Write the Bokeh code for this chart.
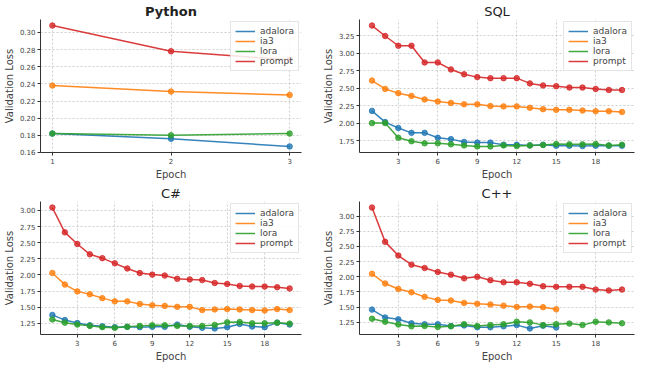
from bokeh.plotting import figure
from bokeh.layouts import gridplot
from bokeh.models import FixedTicker, Legend, LegendItem, NumeralTickFormatter
from bokeh.embed import file_html
from bokeh.resources import INLINE

methods = ["adalora", "ia3", "lora", "prompt"]
colors = ["#1f77b4", "#ff7f0e", "#2ca02c", "#d62728"]

py_adalora = [0.182, 0.176, 0.167]
py_ia3 = [0.238, 0.231, 0.227]
py_lora = [0.182, 0.180, 0.182]
py_prompt = [0.308, 0.278, 0.268]

sql_adalora = [2.175, 2.015, 1.93, 1.86, 1.86, 1.79, 1.77, 1.73, 1.72, 1.72, 1.69, 1.69, 1.68, 1.69, 1.675, 1.675, 1.67, 1.675, 1.675, 1.675]
sql_ia3 = [2.61, 2.49, 2.43, 2.39, 2.34, 2.31, 2.29, 2.27, 2.27, 2.245, 2.24, 2.24, 2.22, 2.20, 2.19, 2.19, 2.18, 2.17, 2.17, 2.16]
sql_lora = [2.00, 2.00, 1.79, 1.74, 1.71, 1.71, 1.695, 1.68, 1.665, 1.665, 1.68, 1.67, 1.68, 1.685, 1.70, 1.695, 1.695, 1.70, 1.68, 1.69]
sql_prompt = [3.40, 3.25, 3.11, 3.11, 2.87, 2.87, 2.77, 2.70, 2.66, 2.645, 2.645, 2.645, 2.57, 2.54, 2.53, 2.51, 2.51, 2.49, 2.475, 2.475]

cs_adalora = [1.38, 1.30, 1.255, 1.22, 1.205, 1.19, 1.195, 1.19, 1.195, 1.195, 1.23, 1.195, 1.18, 1.17, 1.19, 1.24, 1.20, 1.19, 1.26, 1.23]
cs_ia3 = [2.03, 1.85, 1.745, 1.70, 1.64, 1.59, 1.59, 1.55, 1.53, 1.52, 1.505, 1.505, 1.455, 1.465, 1.47, 1.465, 1.455, 1.45, 1.47, 1.455]
cs_lora = [1.31, 1.26, 1.23, 1.21, 1.19, 1.18, 1.195, 1.21, 1.22, 1.22, 1.21, 1.21, 1.21, 1.225, 1.265, 1.27, 1.25, 1.25, 1.26, 1.245]
cs_prompt = [3.045, 2.66, 2.48, 2.32, 2.26, 2.18, 2.10, 2.03, 2.005, 1.99, 1.94, 1.93, 1.92, 1.875, 1.86, 1.83, 1.82, 1.82, 1.81, 1.79]

cpp_adalora = [1.46, 1.33, 1.30, 1.235, 1.22, 1.22, 1.19, 1.20, 1.17, 1.17, 1.185, 1.205, 1.15, 1.195, 1.165]
cpp_ia3 = [2.05, 1.89, 1.80, 1.745, 1.67, 1.62, 1.61, 1.57, 1.555, 1.545, 1.525, 1.505, 1.51, 1.50, 1.465]
cpp_lora = [1.31, 1.26, 1.215, 1.185, 1.19, 1.175, 1.185, 1.22, 1.19, 1.205, 1.22, 1.26, 1.25, 1.205, 1.22, 1.23, 1.205, 1.26, 1.25, 1.235]
cpp_prompt = [3.14, 2.575, 2.35, 2.20, 2.145, 2.08, 2.035, 1.975, 2.00, 1.945, 1.91, 1.91, 1.885, 1.845, 1.835, 1.835, 1.835, 1.79, 1.775, 1.79]

py_ticks_x = [1, 2, 3]
long_ticks_x = [3, 6, 9, 12, 15, 18]
py_ticks_y = [0.16, 0.18, 0.20, 0.22, 0.24, 0.26, 0.28, 0.30]
sql_ticks_y = [1.75, 2.00, 2.25, 2.50, 2.75, 3.00, 3.25]
cs_ticks_y = [1.25, 1.50, 1.75, 2.00, 2.25, 2.50, 2.75, 3.00]
cpp_ticks_y = [1.25, 1.50, 1.75, 2.00, 2.25, 2.50, 2.75, 3.00]

FONT = "DejaVu Sans"


def make_panel(title, series, xticks, yticks, bold=False, right_border=4):
    p = figure(width=319, height=182, output_backend="svg", toolbar_location=None,
               min_border_left=4, min_border_right=right_border, min_border_top=0, min_border_bottom=0)
    p.title.text = title
    p.title.align = "center"
    p.title.text_font = FONT
    p.title.text_font_size = "13px"
    p.title.text_font_style = "bold" if bold else "normal"
    p.title.text_color = "#222222"
    p.title.standoff = 2
    p.title.offset = 0
    p.outline_line_color = None
    items = []
    for name, col, ys in zip(methods, colors, series):
        xs = list(range(1, len(ys) + 1))
        r = p.line(xs, ys, line_color=col, line_width=1.5, line_alpha=0.9)
        p.scatter(xs, ys, size=5.5, fill_color=col, line_color=col, alpha=0.8)
        items.append(LegendItem(label=name, renderers=[r]))
    leg = Legend(items=items, location="top_right")
    leg.label_text_font = FONT
    leg.label_text_font_size = "9px"
    leg.label_height = 10
    leg.glyph_height = 10
    leg.glyph_width = 20
    leg.spacing = 0
    leg.padding = 4
    leg.margin = 2
    leg.border_line_color = "#cccccc"
    leg.background_fill_alpha = 0.85
    p.add_layout(leg)
    p.xaxis.ticker = FixedTicker(ticks=xticks)
    p.yaxis.ticker = FixedTicker(ticks=yticks)
    p.yaxis.formatter = NumeralTickFormatter(format="0.00")
    p.xaxis.axis_label = "Epoch"
    p.yaxis.axis_label = "Validation Loss"
    for ax in (p.xaxis[0], p.yaxis[0]):
        ax.axis_label_text_font = FONT
        ax.axis_label_text_font_size = "10px"
        ax.axis_label_text_font_style = "normal"
        ax.axis_label_standoff = 2
        ax.major_label_standoff = 2
        ax.major_label_text_font = FONT
        ax.major_label_text_font_size = "7px"
        ax.minor_tick_line_color = None
        ax.major_tick_out = 3
        ax.major_tick_in = 0
        ax.axis_line_color = "#333333"
        ax.major_tick_line_color = "#333333"
    p.grid.grid_line_dash = "2 2"
    p.grid.grid_line_color = "#bbbbbb"
    p.grid.grid_line_alpha = 0.7
    return p


p1 = make_panel("Python", [py_adalora, py_ia3, py_lora, py_prompt], py_ticks_x, py_ticks_y, bold=True, right_border=18)
p2 = make_panel("SQL", [sql_adalora, sql_ia3, sql_lora, sql_prompt], long_ticks_x, sql_ticks_y)
p3 = make_panel("C#", [cs_adalora, cs_ia3, cs_lora, cs_prompt], long_ticks_x, cs_ticks_y, right_border=18)
p4 = make_panel("C++", [cpp_adalora, cpp_ia3, cpp_lora, cpp_prompt], long_ticks_x, cpp_ticks_y)

grid = gridplot([[p1, p2], [p3, p4]], toolbar_location=None)

open("out.html", "w").write(file_html(grid, INLINE))
